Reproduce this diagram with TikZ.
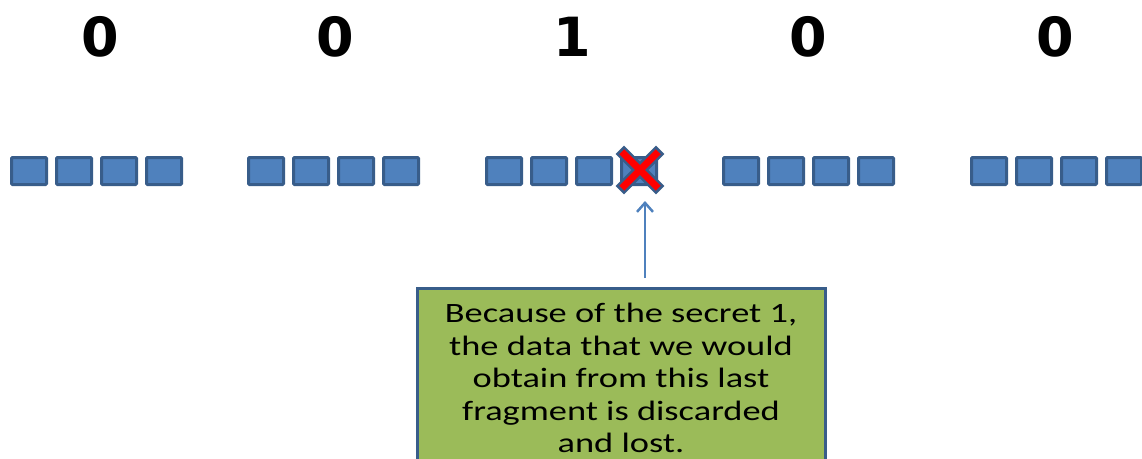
\documentclass[tikz,border=0pt]{standalone}
\usepackage{fontspec}
\setmainfont{Carlito}
\newfontfamily\digitfont{DejaVu Sans}
\newfontfamily\notefont[FakeStretch=1.3]{Carlito}
\usetikzlibrary{arrows.meta}
\definecolor{cellfill}{HTML}{4F81BD}
\definecolor{cellline}{HTML}{385D8A}
\definecolor{notefill}{HTML}{9BBB59}
\definecolor{crossred}{HTML}{FF0000}
\tikzset{
  cell/.style={draw=cellline, fill=cellfill, line width=3pt, rounded corners=1pt,
    minimum width=35pt, minimum height=27pt, inner sep=0pt},
  bit/.style={font=\digitfont\bfseries\fontsize{54}{60}\selectfont, inner sep=0pt, anchor=base},
  note/.style={draw=cellline, fill=notefill, line width=3pt, minimum width=408pt,
    minimum height=190pt, anchor=north, inner sep=0pt},
  notetext/.style={font=\notefont\fontsize{28}{32.5}\selectfont, align=center, inner sep=0pt, anchor=north},
  pointer/.style={draw=cellfill, line width=2.5pt, -{Straight Barb[length=9pt,width=16pt,line width=2.5pt]}},
}
\begin{document}
\begin{tikzpicture}[x=1pt,y=-1pt]
  \useasboundingbox (0,0) rectangle (1142,458);
  \clip (0,0) rectangle (1142,458);
  % the five bits
  \node[bit] (b1) at (100,56) {0};
  \node[bit] (b2) at (335,56) {0};
  \node[bit] (b3) at (572,56) {1};
  \node[bit] (b4) at (808,56) {0};
  \node[bit] (b5) at (1055,56) {0};
  % four fragments per bit
  \foreach \g/\x in {1/29, 2/266, 3/504, 4/741, 5/989}{
    \foreach \k in {0,1,2,3}{
      \node[cell] (c\g\k) at ({\x+45*\k},171) {};
    }
  }
  % the discarded fragment
  \node[inner sep=0pt, minimum size=40pt] (xmark) at (640,170) {};
  \draw[cellline, line width=12pt] (xmark.north west) -- (xmark.south east)
    (xmark.north east) -- (xmark.south west);
  \draw[crossred, line width=7pt] ([shift={(2,2)}]xmark.north west) -- ([shift={(-2,-2)}]xmark.south east)
    ([shift={(-2,2)}]xmark.north east) -- ([shift={(2,-2)}]xmark.south west);
  % explanation
  \node[note] (box) at (621,287) {};
  \node[notetext] (txt) at (621,303) {Because of the secret 1,\\the data that we would\\obtain from this last\\fragment is discarded\\and lost.};
  \coordinate (tail) at (645,278);
  \coordinate (tip) at (645,201);
  \draw[pointer] (tail) -- (tip);
\end{tikzpicture}
\end{document}
